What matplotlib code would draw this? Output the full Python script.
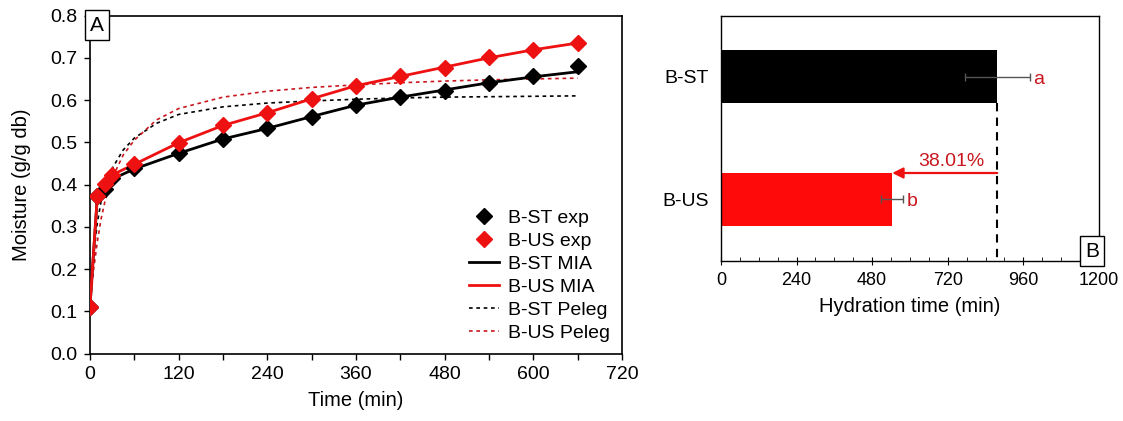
import matplotlib
matplotlib.use("Agg")
import matplotlib.pyplot as plt
from matplotlib.ticker import MultipleLocator

plt.rcParams["font.family"] = ["Liberation Sans", "DejaVu Sans"]
plt.rcParams["font.size"] = 14

# ---- panel A: hydration kinetics ----
t_exp = [0, 10, 20, 30, 60, 120, 180, 240, 300, 360, 420, 480, 540, 600, 660]
st_exp = [0.111, 0.372, 0.389, 0.415, 0.439, 0.474, 0.508, 0.533, 0.561, 0.589,
          0.607, 0.622, 0.641, 0.656, 0.681]
us_exp = [0.111, 0.373, 0.402, 0.423, 0.448, 0.499, 0.540, 0.570, 0.603, 0.634,
          0.656, 0.677, 0.701, 0.719, 0.735]
st_mia = [0.111, 0.372, 0.389, 0.413, 0.437, 0.474, 0.508, 0.533, 0.561, 0.588,
          0.607, 0.624, 0.641, 0.655, 0.667]
us_mia = [0.111, 0.373, 0.402, 0.423, 0.448, 0.499, 0.540, 0.570, 0.603, 0.634,
          0.656, 0.678, 0.700, 0.719, 0.735]

t_peleg = [0, 5, 10, 15, 20, 30, 45, 60, 90, 120, 180, 240, 300, 360, 420,
           480, 540, 600, 660]
st_peleg = [0.111, 0.235, 0.310, 0.360, 0.395, 0.438, 0.482, 0.510, 0.545, 0.566,
            0.584, 0.593, 0.598, 0.602, 0.605, 0.607, 0.608, 0.609, 0.610]
us_peleg = [0.111, 0.200, 0.265, 0.318, 0.358, 0.415, 0.470, 0.505, 0.553, 0.580,
            0.607, 0.621, 0.630, 0.636, 0.641, 0.645, 0.648, 0.650, 0.652]

# ---- panel B: hydration time ----
samples = ["B-US", "B-ST"]
hyd_time = [543.6, 877.0]
hyd_err = [34, 103]
letters = ["b", "a"]
reduction = "38.01%"

RED = "#ee1111"
BARRED = "#ff0a0a"
DRED = "#c8171e"

fig = plt.figure(figsize=(11.23, 4.21), dpi=100)

ax = fig.add_axes([0.0801, 0.160, 0.4737, 0.803])
ax.plot(t_peleg, st_peleg, color="black", lw=1.2, ls=(0, (2.2, 2.2)), label="B-ST Peleg", zorder=2)
ax.plot(t_peleg, us_peleg, color=DRED, lw=1.2, ls=(0, (2.2, 2.2)), label="B-US Peleg", zorder=2)
ax.plot(t_exp, st_mia, color="black", lw=2.0, label="B-ST MIA", zorder=3)
ax.plot(t_exp, us_mia, color=RED, lw=2.0, label="B-US MIA", zorder=3)
ax.plot(t_exp, st_exp, ls="none", marker="D", ms=8, color="black", label="B-ST exp", zorder=4)
ax.plot(t_exp, us_exp, ls="none", marker="D", ms=8, color=RED, label="B-US exp", zorder=5)

ax.set_xlim(0, 720)
ax.set_ylim(0, 0.8)
ax.xaxis.set_major_locator(MultipleLocator(120))
ax.xaxis.set_minor_locator(MultipleLocator(60))
ax.yaxis.set_major_locator(MultipleLocator(0.1))
ax.yaxis.set_major_formatter(plt.FuncFormatter(lambda v, p: f"{v:.1f}"))
ax.tick_params(which="both", direction="out", length=4, width=1)
ax.tick_params(labelsize=14, pad=5)
for s in ax.spines.values():
    s.set_linewidth(1.2)
ax.set_xlabel("Time (min)", fontsize=14.5, labelpad=6)
ax.set_ylabel("Moisture (g/g db)", fontsize=14.5, labelpad=14)
ax.text(0.0, 1.0, "A", transform=ax.transAxes, ha="left", va="top", fontsize=15,
        bbox=dict(boxstyle="square,pad=0.25", fc="white", ec="black", lw=1.0))

h, l = ax.get_legend_handles_labels()
order = [4, 5, 2, 3, 0, 1]
ax.legend([h[i] for i in order], [l[i] for i in order], loc="lower right",
          frameon=False, fontsize=14, handlelength=1.5, handletextpad=0.5,
          labelspacing=0.28, borderaxespad=0.2, bbox_to_anchor=(1.0, 0.0))

bx = fig.add_axes([0.642, 0.381, 0.3366, 0.582])
ypos = [0, 1]
bx.barh(ypos, hyd_time, height=0.43, color=[BARRED, "black"], zorder=2)
bx.errorbar(hyd_time, ypos, xerr=hyd_err, fmt="none", ecolor="#555555",
            elinewidth=1.0, capsize=3, zorder=3)
for y, v, e, lt in zip(ypos, hyd_time, hyd_err, letters):
    bx.text(v + e + 12, y - 0.02, lt, color=DRED, fontsize=14, va="center", ha="left")

st_val = hyd_time[1]
us_val = hyd_time[0]
bx.plot([st_val, st_val], [1 - 0.215, -0.5], color="black", lw=1.5, ls=(0, (4, 3)), zorder=1)
bx.annotate("", xy=(us_val, 0.215), xytext=(st_val, 0.215),
            arrowprops=dict(arrowstyle="-|>", color=RED, lw=1.6, mutation_scale=16,
                            shrinkA=0, shrinkB=0))
bx.text((us_val + st_val) / 2 + 20, 0.31, reduction, color=DRED, fontsize=14,
        ha="center", va="center")

bx.set_xlim(0, 1200)
bx.set_ylim(-0.5, 1.5)
bx.set_yticks(ypos)
bx.set_yticklabels(samples, fontsize=14)
bx.tick_params(axis="y", length=0, pad=9)
bx.xaxis.set_major_locator(MultipleLocator(240))
bx.xaxis.set_minor_locator(MultipleLocator(60))
bx.tick_params(axis="x", which="major", direction="inout", length=6, labelsize=13, pad=5)
bx.tick_params(axis="x", which="minor", direction="in", length=3)
for s in bx.spines.values():
    s.set_linewidth(1.0)
bx.set_xlabel("Hydration time (min)", fontsize=14.5, labelpad=6)
bx.text(1.0, 0.0, "B", transform=bx.transAxes, ha="right", va="bottom", fontsize=15,
        bbox=dict(boxstyle="square,pad=0.25", fc="white", ec="black", lw=1.0))

fig.savefig("out.png", dpi=100)
